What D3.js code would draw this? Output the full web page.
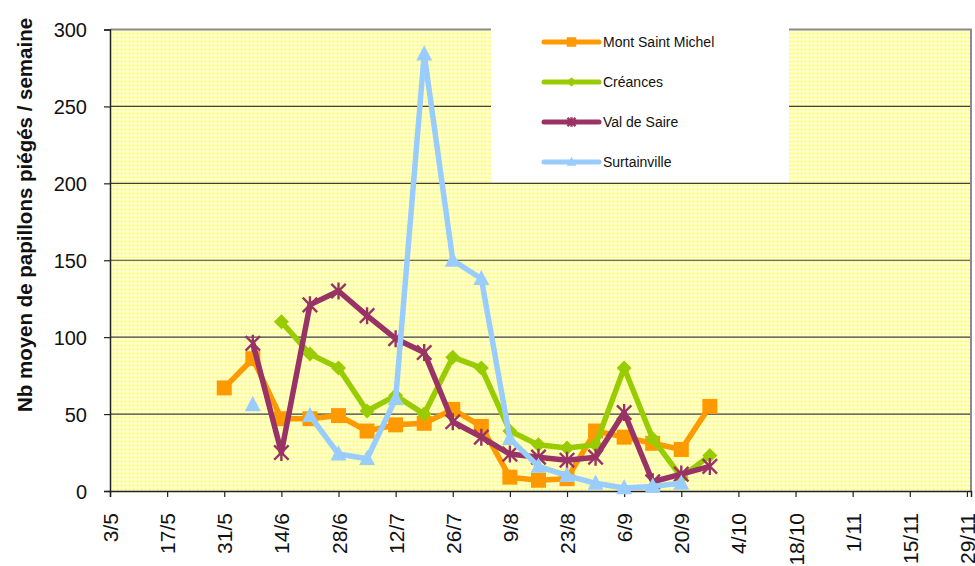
<!DOCTYPE html>
<html>
<head>
<meta charset="utf-8">
<script src="https://cdn.jsdelivr.net/npm/d3@7"></script>
<style>
  html, body { margin: 0; padding: 0; background: #fff; }
  svg { display: block; font-family: "Liberation Sans", Arial, sans-serif; }
</style>
</head>
<body>
<svg id="chart" width="975" height="566"></svg>
<script>
// ---- data ----
const weekDates = ["31/5","7/6","14/6","21/6","28/6","5/7","12/7","19/7","26/7","2/8","9/8","16/8","23/8","30/8","6/9","13/9","20/9","27/9"];
const montSaintMichel = [67, 86, 47, 47, 49, 39, 43, 44, 53, 42, 9, 7, 8, 39, 35, 31, 27, 55];
const creances        = [null, null, 110, 89, 80, 52, 62, 50, 87, 80, 39, 30, 28, 30, 80, 34, 9, 23];
const valDeSaire      = [null, 96, 25, 121, 130, 114, 99, 90, 45, 35, 24, 22, 20, 22, 51, 6, 11, 16];
const surtainville    = [null, 56, null, 49, 24, 21, 60, 284, 150, 138, 34, 16, 10, 5, 2, 3, 5, null];
const seriesNames = ["Mont Saint Michel", "Créances", "Val de Saire", "Surtainville"];
const xTickLabels = ["3/5","17/5","31/5","14/6","28/6","12/7","26/7","9/8","23/8","6/9","20/9","4/10","18/10","1/11","15/11","29/11"];
const yTickValues = [0, 50, 100, 150, 200, 250, 300];
const yTitle = "Nb moyen de papillons piégés / semaine";

// ---- helpers ----
const YEAR = 2009;
const parseDM = s => { const [d, m] = s.split("/").map(Number); return new Date(YEAR, m - 1, d); };

const series = [
  { name: seriesNames[0], values: montSaintMichel, color: "#FF9900", marker: "square" },
  { name: seriesNames[1], values: creances,        color: "#99CC00", marker: "diamond" },
  { name: seriesNames[2], values: valDeSaire,      color: "#993366", marker: "star" },
  { name: seriesNames[3], values: surtainville,    color: "#99CCFF", marker: "triangle" }
];

const svg = d3.select("#chart");
const L = 110, R = 971, T = 29.5, B = 491;

const x = d3.scaleTime().domain([parseDM("3/5"), parseDM("30/11")]).range([L, R]);
const y = d3.scaleLinear().domain([0, 300]).range([B, T]);

// pattern background
const defs = svg.append("defs");
const pat = defs.append("pattern").attr("id", "dots").attr("width", 4).attr("height", 4)
  .attr("patternUnits", "userSpaceOnUse");
pat.append("rect").attr("width", 4).attr("height", 4).attr("fill", "#ffffc8");
pat.append("rect").attr("x", 1).attr("y", 0).attr("width", 1).attr("height", 3).attr("fill", "#ffff80");
pat.append("rect").attr("x", 0).attr("y", 1).attr("width", 3).attr("height", 1).attr("fill", "#ffff80");
pat.append("rect").attr("x", 3).attr("y", 3).attr("width", 1).attr("height", 1).attr("fill", "#ffffff");

svg.append("rect").attr("x", L).attr("y", T).attr("width", R - L).attr("height", B - T)
  .attr("fill", "url(#dots)");

// gridlines
svg.append("g").selectAll("line").data(yTickValues.filter(v => v > 0 && v < 300)).join("line")
  .attr("x1", L).attr("x2", R).attr("y1", d => y(d)).attr("y2", d => y(d))
  .attr("stroke", "#404040").attr("stroke-width", 1.2);

// top & right border
svg.append("line").attr("x1", L).attr("x2", R + 1).attr("y1", T).attr("y2", T)
  .attr("stroke", "#8c8c8c").attr("stroke-width", 2);
svg.append("line").attr("x1", R).attr("x2", R).attr("y1", T).attr("y2", B)
  .attr("stroke", "#8c8c8c").attr("stroke-width", 2);

// y axis
const yAxis = d3.axisLeft(y).tickValues(yTickValues).tickSize(6).tickPadding(17);
const gy = svg.append("g").attr("transform", `translate(${L},0)`).call(yAxis);
gy.select(".domain").attr("stroke", "#222").attr("stroke-width", 1.5);
gy.selectAll(".tick line").attr("stroke", "#222").attr("stroke-width", 1.2);
gy.selectAll(".tick text").attr("font-size", 20).attr("fill", "#111")
  .attr("font-family", "'Liberation Sans', Arial, sans-serif").attr("dy", "0.36em");

// x axis
const xTicks = xTickLabels.map(parseDM);
const xAxis = d3.axisBottom(x).tickValues(xTicks).tickSize(6).tickFormat(d3.timeFormat("%-d/%-m"));
const gx = svg.append("g").attr("transform", `translate(0,${B})`).call(xAxis);
gx.select(".domain").attr("stroke", "#222").attr("stroke-width", 1.5);
gx.selectAll(".tick line").attr("stroke", "#222").attr("stroke-width", 1.2);
gx.selectAll(".tick text").attr("font-size", 21).attr("fill", "#111")
  .attr("font-family", "'Liberation Sans', Arial, sans-serif")
  .attr("text-anchor", "end")
  .attr("transform", "rotate(-90)")
  .attr("x", -22).attr("y", 0).attr("dy", "0.36em");

// y title
svg.append("text")
  .attr("transform", "translate(32,215) rotate(-90)")
  .attr("text-anchor", "middle")
  .attr("font-size", 20.5).attr("font-weight", "bold").attr("fill", "#111")
  .text(yTitle);

// markers
function drawMarker(g, type, cx, cy, size, color) {
  const h = size / 2;
  if (type === "square") {
    g.append("rect").attr("x", cx - h).attr("y", cy - h).attr("width", size).attr("height", size).attr("fill", color);
  } else if (type === "diamond") {
    g.append("path").attr("d", `M${cx},${cy - h}L${cx + h},${cy}L${cx},${cy + h}L${cx - h},${cy}Z`).attr("fill", color);
  } else if (type === "triangle") {
    g.append("path").attr("d", `M${cx},${cy - h * 1.1}L${cx + h},${cy + h * 0.8}L${cx - h},${cy + h * 0.8}Z`).attr("fill", color);
  } else if (type === "star") {
    const k = h * 0.85;
    g.append("path").attr("d", `M${cx - k},${cy - k}L${cx + k},${cy + k}M${cx - k},${cy + k}L${cx + k},${cy - k}M${cx},${cy - h}L${cx},${cy + h}`)
      .attr("stroke", color).attr("stroke-width", 2.4).attr("fill", "none");
  }
}

const dates = weekDates.map(parseDM);
const line = d3.line()
  .defined(d => d.v !== null)
  .x(d => x(d.date)).y(d => y(d.v));

series.forEach(s => {
  const pts = s.values.map((v, i) => ({ date: dates[i], v }));
  const g = svg.append("g");
  g.append("path").datum(pts).attr("d", line)
    .attr("fill", "none").attr("stroke", s.color).attr("stroke-width", 5.5)
    .attr("stroke-linejoin", "round");
  pts.filter(p => p.v !== null).forEach(p => {
    const size = s.marker === "star" ? 17 : (s.marker === "triangle" ? 16 : 15);
    drawMarker(g, s.marker, x(p.date), y(p.v), size, s.color);
  });
});

// legend
const lg = svg.append("g");
lg.append("rect").attr("x", 491).attr("y", 27.5).attr("width", 298).attr("height", 154.5).attr("fill", "#fff");
series.forEach((s, i) => {
  const cy = 42 + i * 40;
  lg.append("line").attr("x1", 544).attr("x2", 599).attr("y1", cy).attr("y2", cy)
    .attr("stroke", s.color).attr("stroke-width", 5).attr("stroke-linecap", "round");
  drawMarker(lg, s.marker, 571.5, cy, 9.5, s.color);
  lg.append("text").attr("x", 603).attr("y", cy).attr("dy", "0.36em")
    .attr("font-size", 14).attr("fill", "#111").text(s.name);
});
</script>
</body>
</html>
